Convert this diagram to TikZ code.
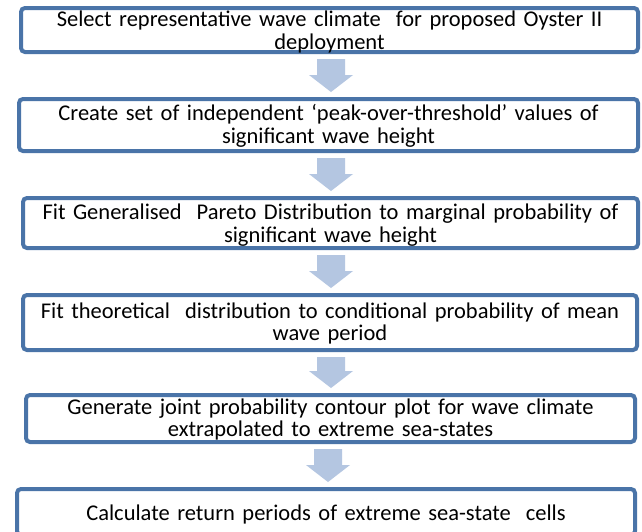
\documentclass[tikz,border=0pt]{standalone}
\usepackage{fontspec}
\setmainfont{Carlito}
\usetikzlibrary{calc}
\definecolor{boxblue}{RGB}{74,116,168}
\definecolor{arrowblue}{RGB}{180,198,225}
\tikzset{
  stepbox/.style={draw=boxblue, line width=4pt, rounded corners=4pt, fill=white,
    inner sep=0pt},
  steptext/.style={inner sep=0pt, align=center, text width=605pt,
    font=\fontsize{22.5}{22.5}\selectfont},
  blockarrow/.style={fill=arrowblue, draw=none}
}
\newcommand{\flowarrow}[3]{%
  \fill[blockarrow] let \p1=(#1.south), \p2=(#2.north) in
    (#3pt-14pt,\y1-5pt) -- (#3pt+14pt,\y1-5pt) -- (#3pt+14pt,\y2+22pt)
    -- (#3pt+22pt,\y2+22pt) -- (#3pt,\y2+5pt) -- (#3pt-22pt,\y2+22pt)
    -- (#3pt-14pt,\y2+22pt) -- cycle;}
\begin{document}
\begin{tikzpicture}[x=1pt,y=-1pt]
\useasboundingbox[fill=white] (0,0) rectangle (642,531);
\node[stepbox, minimum width=617pt, minimum height=44pt] (b1) at (329.5,30) {};
\node[stepbox, minimum width=619pt, minimum height=52pt] (b2) at (328.5,125) {};
\node[stepbox, minimum width=615pt, minimum height=50pt] (b3) at (330.5,223) {};
\node[stepbox, minimum width=614pt, minimum height=55pt] (b4) at (330,322.5) {};
\node[stepbox, minimum width=609pt, minimum height=47pt] (b5) at (330.5,418.5) {};
\node[stepbox, minimum width=618pt, minimum height=46pt] (b6) at (326,512) {};
\node[steptext] (t1) at ($(b1.center)+(0,2)$)
  {Select representative wave climate\ \ for proposed Oyster II\\deployment};
\node[steptext] (t2) at ($(b2.center)+(0,1)$)
  {Create set of independent ‘peak-over-threshold’ values of\\significant wave height};
\node[steptext] (t3) at ($(b3.center)+(0,2)$)
  {Fit Generalised\ \ Pareto Distribution to marginal probability of\\significant wave height};
\node[steptext] (t4) at ($(b4.center)+(0,1)$)
  {Fit theoretical\ \ distribution to conditional probability of mean\\wave period};
\node[steptext] (t5) at ($(b5.center)+(0,1)$)
  {Generate joint probability contour plot for wave climate\\extrapolated to extreme sea-states};
\node[steptext] (t6) at ($(b6.center)+(0,2)$)
  {Calculate return periods of extreme sea-state\ \ cells};
\flowarrow{b1}{b2}{331}
\flowarrow{b2}{b3}{331}
\flowarrow{b3}{b4}{331}
\flowarrow{b4}{b5}{331}
\flowarrow{b5}{b6}{328}
\end{tikzpicture}
\end{document}
